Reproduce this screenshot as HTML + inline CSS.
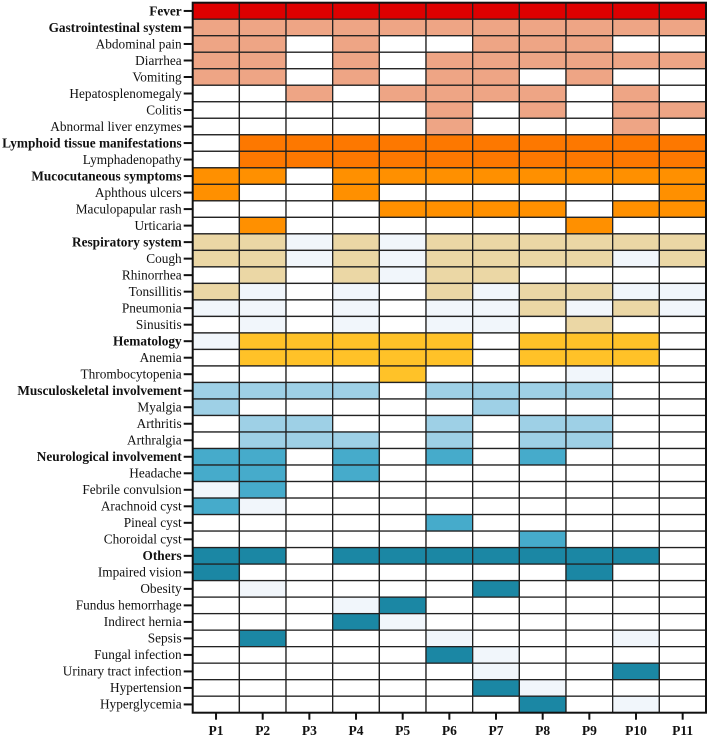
<!DOCTYPE html>
<html><head><meta charset="utf-8"><style>
html,body{margin:0;padding:0;background:#fff;width:709px;height:739px;overflow:hidden}
svg text{font-family:"Liberation Serif",serif;fill:#111}
</style></head><body>
<svg id="chart" width="709" height="739" xmlns="http://www.w3.org/2000/svg"></svg>
<script>
const rowLabels=["Fever","Gastrointestinal system","Abdominal pain","Diarrhea","Vomiting","Hepatosplenomegaly","Colitis","Abnormal liver enzymes","Lymphoid tissue manifestations","Lymphadenopathy","Mucocutaneous symptoms","Aphthous ulcers","Maculopapular rash","Urticaria","Respiratory system","Cough","Rhinorrhea","Tonsillitis","Pneumonia","Sinusitis","Hematology","Anemia","Thrombocytopenia","Musculoskeletal involvement","Myalgia","Arthritis","Arthralgia","Neurological involvement","Headache","Febrile convulsion","Arachnoid cyst","Pineal cyst","Choroidal cyst","Others","Impaired vision","Obesity","Fundus hemorrhage","Indirect hernia","Sepsis","Fungal infection","Urinary tract infection","Hypertension","Hyperglycemia"];
const boldRows=["Fever","Gastrointestinal system","Lymphoid tissue manifestations","Mucocutaneous symptoms","Respiratory system","Hematology","Musculoskeletal involvement","Neurological involvement","Others"];
const patients=["P1","P2","P3","P4","P5","P6","P7","P8","P9","P10","P11"];
const rowGroups=["fever","gi","gi","gi","gi","gi","gi","gi","lym","lym","muc","muc","muc","muc","resp","resp","resp","resp","resp","resp","hem","hem","hem","msk","msk","msk","msk","neu","neu","neu","neu","neu","neu","oth","oth","oth","oth","oth","oth","oth","oth","oth","oth"];
const values=[
[2,2,2,2,2,2,2,2,2,2,2],
[2,2,2,2,2,2,2,2,2,2,2],
[2,2,0,2,0,0,2,2,2,0,0],
[2,2,0,2,0,2,2,2,2,2,2],
[2,2,0,2,0,2,2,0,2,0,0],
[0,0,2,0,2,2,2,2,0,2,0],
[0,0,0,0,0,2,0,2,0,2,2],
[0,0,0,0,0,2,0,0,0,2,0],
[0,2,2,2,2,2,2,2,2,2,2],
[0,2,2,2,2,2,2,2,2,2,2],
[2,2,0,2,2,2,2,2,2,2,2],
[2,0,0,2,0,0,0,0,0,0,2],
[0,0,0,0,2,2,2,2,0,2,2],
[0,2,0,0,0,0,0,0,2,0,0],
[2,2,1,2,1,2,2,2,2,2,2],
[2,2,1,2,1,2,2,2,2,1,2],
[0,2,0,2,1,2,2,0,0,0,0],
[2,1,0,1,0,2,1,2,2,1,1],
[1,1,0,1,0,1,1,2,1,2,1],
[0,1,0,1,0,1,1,0,2,0,0],
[1,2,2,2,2,2,0,2,2,2,0],
[0,2,2,2,2,2,0,2,2,2,0],
[0,0,0,0,2,0,0,0,1,0,0],
[2,2,2,2,0,2,2,2,2,0,0],
[2,0,0,0,0,0,2,0,0,0,0],
[0,2,2,0,0,2,0,2,2,0,0],
[0,2,2,2,0,2,0,2,2,0,0],
[2,2,0,2,0,2,0,2,0,0,0],
[2,2,0,2,0,0,0,0,0,0,0],
[1,2,0,0,0,0,0,0,0,0,0],
[2,1,0,0,0,0,0,0,0,0,0],
[0,0,0,0,0,2,0,0,0,0,0],
[0,0,0,0,0,0,0,2,0,0,0],
[2,2,0,2,2,2,2,2,2,2,0],
[2,0,0,0,0,0,0,0,2,0,0],
[0,1,0,0,0,0,2,0,0,0,0],
[0,0,0,1,2,0,0,0,0,0,0],
[0,0,0,2,1,0,0,0,0,0,0],
[0,2,0,0,0,1,0,0,0,1,0],
[0,0,0,0,0,2,1,0,0,0,0],
[0,0,0,0,0,0,1,0,0,2,0],
[0,0,0,0,0,0,2,1,0,0,0],
[0,0,0,0,0,0,0,2,0,1,0]
];
const palette={fever:"#dd0000",gi:"#eea585",lym:"#fd7800",muc:"#ff9000",resp:"#ebd7a5",hem:"#ffc228",msk:"#9ed0e6",neu:"#46abcb",oth:"#1b87a4"};
const faint="#f1f6fb";
const NS="http://www.w3.org/2000/svg";
const svg=document.getElementById("chart");
const L=192.7,R=706,T=2.7,B=712.7;
const cw=(R-L)/patients.length, rh=(B-T)/rowLabels.length;
const xPos=i=>L+i*cw, yPos=j=>T+j*rh;
function mk(tag,attrs){const e=document.createElementNS(NS,tag);for(const k in attrs)e.setAttribute(k,attrs[k]);svg.appendChild(e);return e;}
values.forEach((row,j)=>{
  row.forEach((v,i)=>{
    const fill=v===2?palette[rowGroups[j]]:(v===1?faint:"#ffffff");
    const r=mk("rect",{x:xPos(i),y:yPos(j),width:cw,height:rh,fill:fill,stroke:"#222","stroke-width":1.3});
    
    
  });
});
mk("rect",{x:L,y:T,width:R-L,height:B-T,fill:"none",stroke:"#111","stroke-width":2});
rowLabels.forEach((lab,j)=>{
  const y=yPos(j)+rh/2;
  const tk=mk("line",{x1:L-9,x2:L,y1:y,y2:y,stroke:"#111","stroke-width":2});
  
  
  const t=mk("text",{x:L-11,y:y+4.3,"text-anchor":"end","font-size":"13.3px","font-weight":boldRows.includes(lab)?"bold":"normal"});
  t.textContent=lab;
  
  
});
patients.forEach((p,i)=>{
  const x=xPos(i)+cw/2;
  const tk=mk("line",{x1:x,x2:x,y1:B,y2:B+7,stroke:"#111","stroke-width":2});
  
  
  const t=mk("text",{x:x,y:735,"text-anchor":"middle","font-size":"13.5px","font-weight":"bold"});
  t.textContent=p;
  
  
});
</script>
</body></html>
